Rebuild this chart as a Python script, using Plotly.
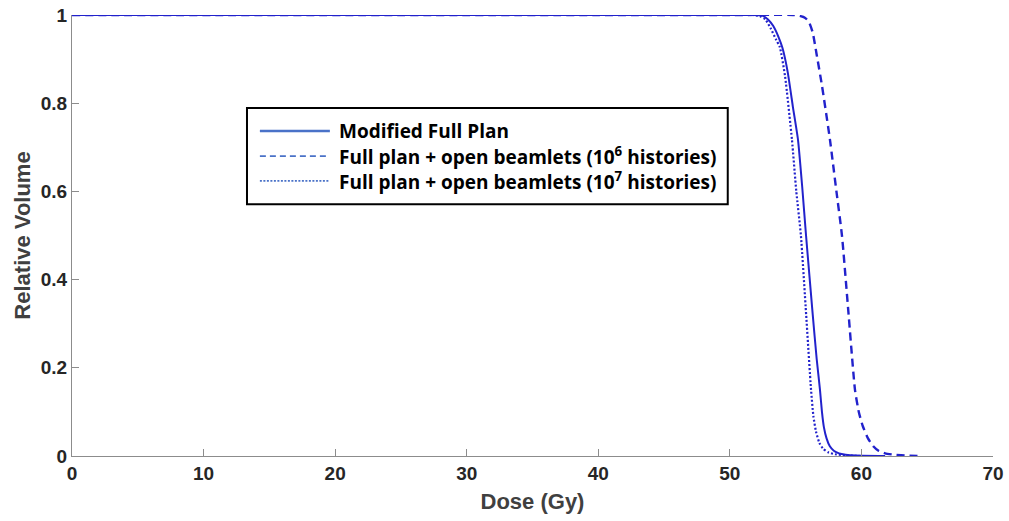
import plotly.graph_objects as go

# Dose-volume histogram samples (dose in Gy, relative volume)
dose_modified = [0, 40, 50, 52.0, 52.5, 52.9, 53.3, 53.7, 54.0, 54.4, 54.8, 55.18, 55.5, 55.79, 56.3, 56.6, 56.85,
                 57.0, 57.15, 57.35, 57.6, 57.9, 58.3, 58.8, 59.6, 61.8]
vol_modified = [1, 1, 1, 1.0, 0.998, 0.99, 0.975, 0.95, 0.925, 0.87, 0.79, 0.717, 0.61, 0.5, 0.32, 0.22, 0.15,
                0.1, 0.065, 0.04, 0.022, 0.012, 0.006, 0.003, 0.001, 0.0]

dose_1e6 = [0, 40, 50, 54.8, 55.3, 55.7, 56.0, 56.3, 56.6, 57.0, 57.61, 58.1, 58.52, 59.0, 59.51, 59.8, 60.1,
            60.5, 60.9, 61.3, 61.8, 62.5, 63.5, 64.6]
vol_1e6 = [1, 1, 1, 1.0, 0.998, 0.994, 0.985, 0.96, 0.91, 0.84, 0.717, 0.6, 0.5, 0.33, 0.15, 0.1, 0.068,
           0.04, 0.022, 0.012, 0.006, 0.003, 0.001, 0.0]

dose_1e7 = [0, 40, 50, 51.8, 52.3, 52.7, 53.1, 53.5, 53.8, 54.2, 54.72, 55.05, 55.4, 55.8, 56.17, 56.35, 56.55,
            56.8, 57.1, 57.5, 58.0, 58.8, 59.9]
vol_1e7 = [1, 1, 1, 1.0, 0.997, 0.99, 0.97, 0.945, 0.927, 0.86, 0.717, 0.6, 0.5, 0.32, 0.15, 0.09, 0.055,
           0.03, 0.016, 0.008, 0.004, 0.0015, 0.0]

series_names = [
    "Modified Full Plan",
    "Full plan + open beamlets (10<sup>6</sup> histories)",
    "Full plan + open beamlets (10<sup>7</sup> histories)",
]
curve_dashes = ["solid", "8px,5px", "2px,2px"]
key_dashes = ["solid", "6px,4px", "2px,1.5px"]

x_ticks = [0, 10, 20, 30, 40, 50, 60, 70]
y_ticks = [0, 0.2, 0.4, 0.6, 0.8, 1]
y_tick_text = ["0", "0.2", "0.4", "0.6", "0.8", "1"]

curve_color = "#2222cc"
key_color = "#4a72c8"

fig = go.Figure()
for xs, ys, name, dash, w in [
    (dose_modified, vol_modified, series_names[0], curve_dashes[0], 2),
    (dose_1e6, vol_1e6, series_names[1], curve_dashes[1], 2.4),
    (dose_1e7, vol_1e7, series_names[2], curve_dashes[2], 2.2),
]:
    fig.add_trace(go.Scatter(x=xs, y=ys, mode="lines", name=name, showlegend=False,
                             line=dict(color=curve_color, width=w, dash=dash, shape="spline", smoothing=0.5)))

# Hand-drawn key box
shapes = [dict(type="rect", xref="paper", yref="paper", x0=0.19, x1=0.712, y0=0.571, y1=0.789,
               line=dict(color="black", width=2), fillcolor="white", layer="above")]
annotations = []
rows_y = [0.737, 0.680, 0.624]
for name, dash, ry in zip(series_names, key_dashes, rows_y):
    shapes.append(dict(type="line", xref="paper", yref="paper", x0=0.204, x1=0.280, y0=ry, y1=ry,
                       line=dict(color=key_color, width=2.5 if dash == "solid" else 1.8, dash=dash),
                       layer="above"))
    annotations.append(dict(xref="paper", yref="paper", x=0.288, y=ry, text=name, showarrow=False,
                            xanchor="left", yanchor="middle",
                            font=dict(family="Open Sans", size=19, color="black", weight=700)))

axis_font = dict(family="Liberation Sans", size=19, color="#262626", weight="bold")
title_font = dict(family="Liberation Sans", size=22, color="#404040", weight="bold")
fig.update_layout(
    width=1009, height=521,
    margin=dict(l=72, r=16, t=15, b=65),
    plot_bgcolor="white", paper_bgcolor="white",
    shapes=shapes, annotations=annotations,
    xaxis=dict(range=[0, 70], tickvals=x_ticks, showgrid=False, zeroline=False, automargin=False,
               showline=True, linecolor="#8c8c8c", linewidth=1, ticks="inside", ticklen=7,
               tickcolor="#8c8c8c", tickfont=axis_font,
               title=dict(text="Dose (Gy)", font=title_font, standoff=10)),
    yaxis=dict(range=[0, 1], tickvals=y_ticks, ticktext=y_tick_text, showgrid=False, zeroline=False,
               automargin=False,
               showline=True, linecolor="#8c8c8c", linewidth=1, ticks="inside", ticklen=7,
               tickcolor="#8c8c8c", tickfont=axis_font,
               title=dict(text="Relative Volume", font=title_font, standoff=4)),
)

fig.write_html("out.html")
